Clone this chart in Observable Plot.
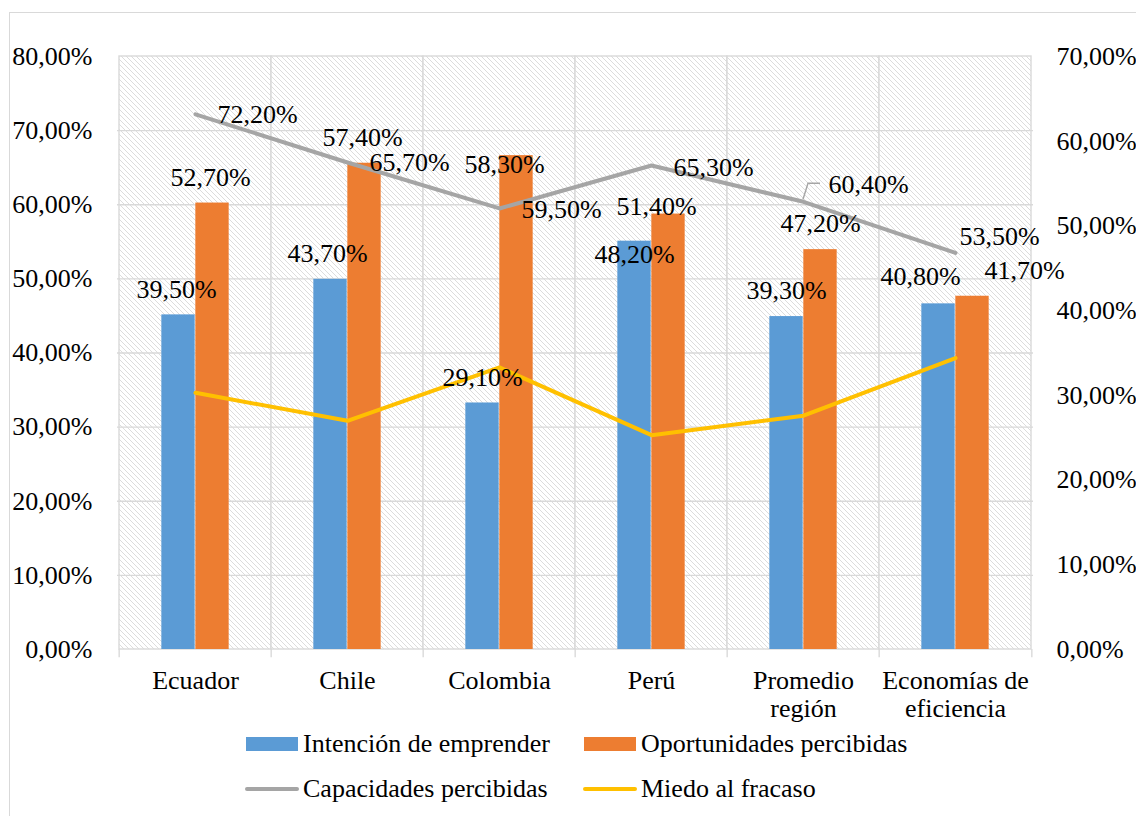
<!DOCTYPE html>
<html>
<head>
<meta charset="utf-8">
<script src="https://cdn.jsdelivr.net/npm/d3@7"></script>
<script src="https://cdn.jsdelivr.net/npm/@observablehq/plot@0.6"></script>
<style>
  html, body { margin: 0; padding: 0; background: #fff; width: 1136px; height: 816px; overflow: hidden; }
  #frame { position: absolute; left: 9px; top: 12px; width: 1400px; height: 1000px; border: 1.4px solid #d9d9d9; box-sizing: border-box; }
  #chart { position: absolute; left: 0; top: 0; }
  #chart svg text { font-family: 'Liberation Serif', serif; }
  .sw { position: absolute; }
  .lt { position: absolute; font-family: 'Liberation Serif', serif; font-size: 26px; line-height: 26px; height: 26px; transform: translateY(-50%); color: #000; white-space: nowrap; }
</style>
</head>
<body>
<div id="frame"></div>
<div id="chart"></div>
<div class="sw" style="left:246px;top:737px;width:52px;height:14px;background:#5B9BD5"></div>
<div class="lt" style="left:303px;top:744px">Intención de emprender</div>
<div class="sw" style="left:584px;top:737px;width:52px;height:14px;background:#ED7D31"></div>
<div class="lt" style="left:641px;top:744px">Oportunidades percibidas</div>
<div class="sw" style="left:245px;top:787px;width:54px;height:4px;border-radius:2px;background:#A5A5A5"></div>
<div class="lt" style="left:303px;top:789px">Capacidades percibidas</div>
<div class="sw" style="left:583px;top:787px;width:54px;height:4px;border-radius:2px;background:#FFC000"></div>
<div class="lt" style="left:641px;top:789px">Miedo al fracaso</div>
<script>
// ---- data ----
const categories = ["Ecuador", "Chile", "Colombia", "Perú", "Promedio región", "Economías de eficiencia"];
const tickLabels = ["Ecuador", "Chile", "Colombia", "Perú", "Promedio\nregión", "Economías de\neficiencia"];
const intencion = [39.5, 43.7, 29.1, 48.2, 39.3, 40.8];        // right axis
const oportunidades = [52.7, 57.4, 58.3, 51.4, 47.2, 41.7];    // right axis
const capacidades = [72.2, 65.7, 59.5, 65.3, 60.4, 53.5];      // left axis
const miedo = [30.3, 27.0, 33.3, 25.3, 27.6, 34.4];            // right axis
const leftTicks = [0, 10, 20, 30, 40, 50, 60, 70, 80];
const rightTicks = [0, 10, 20, 30, 40, 50, 60, 70];

// ---- label placement tweaks (pixels) ----
const labelNudge = {
  intencion: [[-2, 0], [-3, 0], [0, 0], [0, 39], [0, 0], [-18, -2]],
  oportunidades: [[-2, 0], [-2, 0], [-12, 35], [-12, 18], [0, 0], [52, 0]],
  capacidades: [[0, 0], [0, 0], [0, 1], [0, 2], [3, -17], [-18, -16]]
};

const LEFT_MAX = 80, RIGHT_MAX = 70;
const R = v => v * LEFT_MAX / RIGHT_MAX; // right-axis value -> shared y scale
const fmt = v => v.toFixed(2).replace(".", ",") + "%";

const rows = categories.map((cat, i) => ({
  cat, intencion: intencion[i], oportunidades: oportunidades[i],
  capacidades: capacidades[i], miedo: miedo[i]
}));

const W = 1136, H = 722, ML = 117, MR = 103, MT = 56, MB = 73;
const bw = (W - ML - MR) / categories.length;
const barW = 34;
const grid = "#d9d9d9";

const labelMarks = [];
rows.forEach((d, i) => {
  const [bx, by] = labelNudge.intencion[i];
  labelMarks.push(Plot.text([d], {x: "cat", y: r => R(r.intencion), text: r => fmt(r.intencion), dx: -barW / 2 + bx, dy: -25.5 + by}));
  const [ox, oy] = labelNudge.oportunidades[i];
  labelMarks.push(Plot.text([d], {x: "cat", y: r => R(r.oportunidades), text: r => fmt(r.oportunidades), dx: barW / 2 + ox, dy: -25.5 + oy}));
  const [cx, cy] = labelNudge.capacidades[i];
  labelMarks.push(Plot.text([d], {x: "cat", y: "capacidades", text: r => fmt(r.capacidades), textAnchor: "start", dx: 22 + cx, dy: cy}));
});

const plot = Plot.plot({
  width: W, height: H,
  marginLeft: ML, marginRight: MR, marginTop: MT, marginBottom: MB,
  style: {fontFamily: "'Liberation Serif', serif", fontSize: "26px", color: "#000", background: "transparent", overflow: "visible"},
  x: {domain: categories, padding: 0, label: null},
  y: {domain: [0, LEFT_MAX], label: null},
  marks: [
    // hatched plot area + vertical gridlines
    Plot.barY(categories, {x: d => d, y1: 0, y2: LEFT_MAX, fill: "url(#hatch)", stroke: grid, strokeWidth: 1.4}),
    Plot.ruleY(leftTicks.filter(t => t > 0 && t < LEFT_MAX), {stroke: grid, strokeWidth: 1.4}),
    // small ticks below the category axis at band edges
    Plot.ruleX(categories, {x: d => d, y1: 0, y2: -1.1, dx: -bw / 2, stroke: grid, strokeWidth: 1.4}),
    Plot.ruleX(categories.slice(-1), {x: d => d, y1: 0, y2: -1.1, dx: bw / 2, stroke: grid, strokeWidth: 1.4}),
    // bars (secondary axis)
    Plot.barY(rows, {x: "cat", y: d => R(d.intencion), fill: "#5B9BD5", insetLeft: bw / 2 - barW, insetRight: bw / 2}),
    Plot.barY(rows, {x: "cat", y: d => R(d.oportunidades), fill: "#ED7D31", insetLeft: bw / 2, insetRight: bw / 2 - barW}),
    // lines
    Plot.line(rows, {x: "cat", y: "capacidades", stroke: "#A5A5A5", strokeWidth: 4, strokeLinejoin: "round", strokeLinecap: "round"}),
    Plot.line(rows, {x: "cat", y: d => R(d.miedo), stroke: "#FFC000", strokeWidth: 4, strokeLinejoin: "round", strokeLinecap: "round"}),
    ...labelMarks,
    // axes
    Plot.axisY(leftTicks, {anchor: "left", label: null, tickSize: 0, tickPadding: 25, tickFormat: fmt}),
    Plot.axisY(rightTicks.map(R), {anchor: "right", label: null, tickSize: 0, tickPadding: 23, tickFormat: v => fmt(Math.round(v * RIGHT_MAX / LEFT_MAX))}),
    Plot.axisX({anchor: "bottom", label: null, tickSize: 0, tickPadding: 20, lineHeight: 1.06, tickFormat: d => tickLabels[categories.indexOf(d)]})
  ]
});

// hatch pattern definition
d3.select(plot).insert("defs", ":first-child").html(
  '<pattern id="hatch" patternUnits="userSpaceOnUse" width="5" height="5">' +
  '<rect width="5" height="5" fill="#ffffff"/>' +
  '<path d="M-1,-1 L6,6 M-1,4 L1,6 M4,-1 L6,1" stroke="#dcdcdc" stroke-width="1"/>' +
  '</pattern>'
);

// leader line for the "Promedio región" capacidades label
{
  const sx = plot.scale("x"), sy = plot.scale("y");
  const i = 4;
  const px = sx.apply(categories[i]) + sx.bandwidth / 2;
  const py = sy.apply(capacidades[i]);
  d3.select(plot).append("path")
    .attr("d", `M${px},${py - 2}L${px + 5},${py - 18}L${px + 17},${py - 18}`)
    .attr("fill", "none").attr("stroke", "#A5A5A5").attr("stroke-width", 1.4);
}

document.getElementById("chart").appendChild(plot);
</script>
</body>
</html>
